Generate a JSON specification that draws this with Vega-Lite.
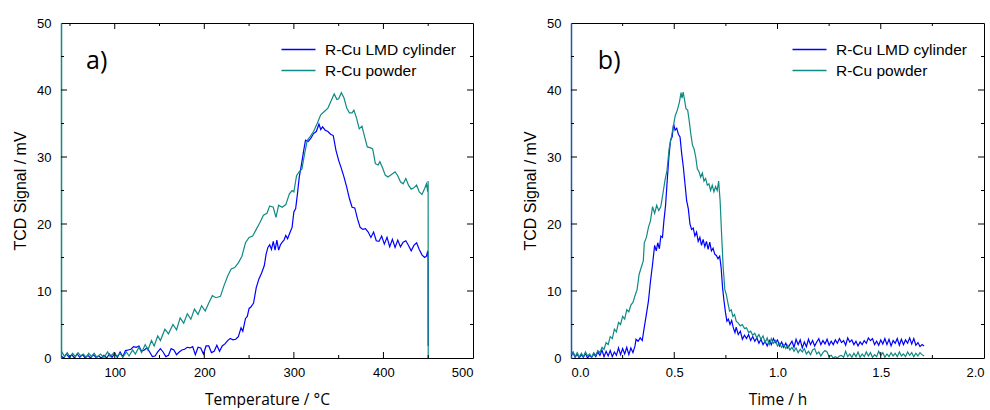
{
"$schema": "https://vega.github.io/schema/vega-lite/v6.json",
"padding": {"left": 12, "top": 16, "right": 0, "bottom": 0},
"spacing": 48,
"config": {
  "view": {"stroke": "black", "strokeWidth": 1},
  "axis": {"labelFont": "Liberation Sans", "labelFontSize": 13, "labelColor": "black", "titleFont": "Liberation Sans", "titleFontSize": 16, "titleFontWeight": "normal", "titleColor": "black", "grid": false, "domainColor": "black"},
  "legend": {"labelFont": "Liberation Sans", "labelFontSize": 15.5, "labelColor": "black", "symbolType": "M-2,0H2", "symbolSize": 289, "symbolStrokeWidth": 1.5, "orient": "top-right", "offset": 17, "title": null, "rowPadding": 3, "labelOffset": 17}
},
"resolve": {"scale": {"color": "independent"}, "legend": {"color": "independent"}},
"datasets": {
"txa": [{"v":50,"m":0},{"v":100,"m":1},{"v":150,"m":0},{"v":200,"m":1},{"v":250,"m":0},{"v":300,"m":1},{"v":350,"m":0},{"v":400,"m":1},{"v":450,"m":0}],
"txb": [{"v":0.25,"m":0},{"v":0.5,"m":1},{"v":0.75,"m":0},{"v":1,"m":1},{"v":1.25,"m":0},{"v":1.5,"m":1},{"v":1.75,"m":0}],
"ty": [{"v":5,"m":0},{"v":10,"m":1},{"v":15,"m":0},{"v":20,"m":1},{"v":25,"m":0},{"v":30,"m":1},{"v":35,"m":0},{"v":40,"m":1},{"v":45,"m":0}],
"a": [
{"s":"c","x":40,"y":0.3},{"s":"c","x":43,"y":0},{"s":"c","x":46,"y":0.6},{"s":"c","x":49,"y":0.1},{"s":"c","x":52,"y":0.5},{"s":"c","x":55,"y":0},{"s":"c","x":58,"y":0.6},{"s":"c","x":61,"y":0.1},{"s":"c","x":64,"y":0.5},{"s":"c","x":67,"y":0},{"s":"c","x":70,"y":0.4},{"s":"c","x":73,"y":0},{"s":"c","x":76,"y":0.5},{"s":"c","x":79,"y":0.1},{"s":"c","x":82,"y":0.3},{"s":"c","x":85,"y":0},{"s":"c","x":88,"y":0.4},{"s":"c","x":91,"y":0},{"s":"c","x":94,"y":0.6},{"s":"c","x":97,"y":0.1},{"s":"c","x":100,"y":0.7},{"s":"c","x":103,"y":0.1},{"s":"c","x":106,"y":0.9},{"s":"c","x":109,"y":0.2},{"s":"c","x":112,"y":1.1},{"s":"c","x":115,"y":1.2},{"s":"c","x":118,"y":1.3},{"s":"c","x":121,"y":1.7},{"s":"c","x":124,"y":1.6},{"s":"c","x":127,"y":1.8},{"s":"c","x":130,"y":1.0},{"s":"c","x":133,"y":1.2},{"s":"c","x":136,"y":1.5},{"s":"c","x":139,"y":0.9},{"s":"c","x":142,"y":0.2},{"s":"c","x":145,"y":0.3},{"s":"c","x":148,"y":0.9},{"s":"c","x":151,"y":1.4},{"s":"c","x":154,"y":0.9},{"s":"c","x":157,"y":0.2},{"s":"c","x":160,"y":0.4},{"s":"c","x":163,"y":1.4},{"s":"c","x":166,"y":1.2},{"s":"c","x":169,"y":0.5},{"s":"c","x":172,"y":0.9},{"s":"c","x":175,"y":1.2},{"s":"c","x":178,"y":1.3},{"s":"c","x":181,"y":1.6},{"s":"c","x":184,"y":1.5},{"s":"c","x":187,"y":1.7},{"s":"c","x":190,"y":0.5},{"s":"c","x":193,"y":1.6},{"s":"c","x":196,"y":1.5},{"s":"c","x":199,"y":0.6},{"s":"c","x":202,"y":1.8},{"s":"c","x":205,"y":1.8},{"s":"c","x":208,"y":0.8},{"s":"c","x":211,"y":1.0},{"s":"c","x":214,"y":1.9},{"s":"c","x":217,"y":1.0},{"s":"c","x":220,"y":1.8},{"s":"c","x":223,"y":2.1},{"s":"c","x":226,"y":2.6},{"s":"c","x":229,"y":2.9},{"s":"c","x":232,"y":2.7},{"s":"c","x":235,"y":2.8},{"s":"c","x":238,"y":3.2},{"s":"c","x":241,"y":4.5},{"s":"c","x":243,"y":4.0},{"s":"c","x":246,"y":5.9},{"s":"c","x":248,"y":6.2},{"s":"c","x":250,"y":7.4},{"s":"c","x":252,"y":7.6},{"s":"c","x":255,"y":8.2},{"s":"c","x":258,"y":10.5},{"s":"c","x":261,"y":11.8},{"s":"c","x":264,"y":12.7},{"s":"c","x":267,"y":13.8},{"s":"c","x":269,"y":15.5},{"s":"c","x":271,"y":16.5},{"s":"c","x":273,"y":16.9},{"s":"c","x":275,"y":16.2},{"s":"c","x":277,"y":17.4},{"s":"c","x":279,"y":16.1},{"s":"c","x":281,"y":17.6},{"s":"c","x":283,"y":16.1},{"s":"c","x":285,"y":16.9},{"s":"c","x":287,"y":17.3},{"s":"c","x":289,"y":17.6},{"s":"c","x":291,"y":18.3},{"s":"c","x":293,"y":17.8},{"s":"c","x":295,"y":18.5},{"s":"c","x":298,"y":19.5},{"s":"c","x":300,"y":21.8},{"s":"c","x":302,"y":22.3},{"s":"c","x":304,"y":24.5},{"s":"c","x":306,"y":27.0},{"s":"c","x":308,"y":28.5},{"s":"c","x":311,"y":31.0},{"s":"c","x":313,"y":32.5},{"s":"c","x":316,"y":32.3},{"s":"c","x":319,"y":32.8},{"s":"c","x":322,"y":33.5},{"s":"c","x":325,"y":33.8},{"s":"c","x":328,"y":34.9},{"s":"c","x":330,"y":34.1},{"s":"c","x":332,"y":34.5},{"s":"c","x":335,"y":34.0},{"s":"c","x":338,"y":33.8},{"s":"c","x":341,"y":33.4},{"s":"c","x":344,"y":33.2},{"s":"c","x":347,"y":31.0},{"s":"c","x":350,"y":29.5},{"s":"c","x":353,"y":28.3},{"s":"c","x":356,"y":27.0},{"s":"c","x":359,"y":25.5},{"s":"c","x":362,"y":23.8},{"s":"c","x":365,"y":22.5},{"s":"c","x":368,"y":22.4},{"s":"c","x":371,"y":20.8},{"s":"c","x":374,"y":19.5},{"s":"c","x":377,"y":19.2},{"s":"c","x":380,"y":19.3},{"s":"c","x":383,"y":18.8},{"s":"c","x":386,"y":18.0},{"s":"c","x":389,"y":18.8},{"s":"c","x":392,"y":17.5},{"s":"c","x":395,"y":17.4},{"s":"c","x":398,"y":18.2},{"s":"c","x":401,"y":17.0},{"s":"c","x":404,"y":18.0},{"s":"c","x":407,"y":16.6},{"s":"c","x":410,"y":17.7},{"s":"c","x":413,"y":16.5},{"s":"c","x":416,"y":17.6},{"s":"c","x":419,"y":16.6},{"s":"c","x":422,"y":17.3},{"s":"c","x":425,"y":17.5},{"s":"c","x":428,"y":16.8},{"s":"c","x":431,"y":16.0},{"s":"c","x":434,"y":16.8},{"s":"c","x":437,"y":17.2},{"s":"c","x":440,"y":16.2},{"s":"c","x":443,"y":15.4},{"s":"c","x":446,"y":15.0},{"s":"c","x":448,"y":15.2},{"s":"c","x":449.5,"y":16.0},{"s":"c","x":449.9,"y":14.5},{"s":"c","x":450,"y":1.8},
{"s":"p","x":40,"y":0.2},{"s":"p","x":41,"y":0.9},{"s":"p","x":44,"y":0.2},{"s":"p","x":47,"y":0.8},{"s":"p","x":50,"y":0.1},{"s":"p","x":53,"y":0.7},{"s":"p","x":56,"y":0.2},{"s":"p","x":59,"y":0.8},{"s":"p","x":62,"y":0.3},{"s":"p","x":65,"y":0.6},{"s":"p","x":68,"y":0.1},{"s":"p","x":71,"y":0.7},{"s":"p","x":74,"y":0.2},{"s":"p","x":77,"y":0.7},{"s":"p","x":80,"y":0.1},{"s":"p","x":84,"y":0.6},{"s":"p","x":88,"y":0.1},{"s":"p","x":92,"y":0.9},{"s":"p","x":95,"y":0.2},{"s":"p","x":99,"y":0.8},{"s":"p","x":102,"y":0.2},{"s":"p","x":106,"y":0.7},{"s":"p","x":109,"y":0.1},{"s":"p","x":113,"y":0.9},{"s":"p","x":116,"y":0.3},{"s":"p","x":120,"y":1.2},{"s":"p","x":123,"y":0.6},{"s":"p","x":127,"y":1.6},{"s":"p","x":130,"y":0.8},{"s":"p","x":134,"y":2.0},{"s":"p","x":137,"y":1.2},{"s":"p","x":141,"y":2.6},{"s":"p","x":144,"y":1.8},{"s":"p","x":148,"y":3.3},{"s":"p","x":151,"y":2.6},{"s":"p","x":156,"y":4.3},{"s":"p","x":160,"y":3.6},{"s":"p","x":165,"y":5.0},{"s":"p","x":169,"y":4.2},{"s":"p","x":173,"y":6.0},{"s":"p","x":177,"y":5.2},{"s":"p","x":181,"y":6.6},{"s":"p","x":185,"y":5.8},{"s":"p","x":189,"y":7.3},{"s":"p","x":193,"y":6.5},{"s":"p","x":197,"y":7.8},{"s":"p","x":201,"y":7.0},{"s":"p","x":205,"y":8.2},{"s":"p","x":209,"y":9.3},{"s":"p","x":213,"y":9.0},{"s":"p","x":218,"y":9.2},{"s":"p","x":222,"y":10.8},{"s":"p","x":226,"y":12.2},{"s":"p","x":230,"y":13.3},{"s":"p","x":234,"y":13.5},{"s":"p","x":238,"y":14.2},{"s":"p","x":242,"y":15.2},{"s":"p","x":246,"y":17.2},{"s":"p","x":250,"y":18.0},{"s":"p","x":254,"y":18.2},{"s":"p","x":258,"y":19.2},{"s":"p","x":262,"y":20.2},{"s":"p","x":266,"y":21.3},{"s":"p","x":270,"y":21.6},{"s":"p","x":273,"y":22.7},{"s":"p","x":277,"y":22.5},{"s":"p","x":280,"y":21.0},{"s":"p","x":283,"y":22.8},{"s":"p","x":287,"y":22.5},{"s":"p","x":291,"y":22.9},{"s":"p","x":295,"y":24.5},{"s":"p","x":298,"y":25.0},{"s":"p","x":300,"y":24.8},{"s":"p","x":303,"y":27.2},{"s":"p","x":306,"y":27.8},{"s":"p","x":309,"y":28.2},{"s":"p","x":312,"y":30.5},{"s":"p","x":315,"y":32.5},{"s":"p","x":318,"y":33.0},{"s":"p","x":322,"y":33.8},{"s":"p","x":326,"y":35.0},{"s":"p","x":330,"y":36.3},{"s":"p","x":334,"y":36.8},{"s":"p","x":338,"y":37.3},{"s":"p","x":342,"y":38.5},{"s":"p","x":345,"y":39.4},{"s":"p","x":348,"y":38.6},{"s":"p","x":350,"y":38.7},{"s":"p","x":353,"y":39.6},{"s":"p","x":356,"y":38.8},{"s":"p","x":359,"y":37.3},{"s":"p","x":362,"y":36.6},{"s":"p","x":365,"y":36.6},{"s":"p","x":367,"y":37.0},{"s":"p","x":370,"y":35.8},{"s":"p","x":373,"y":34.2},{"s":"p","x":376,"y":34.6},{"s":"p","x":379,"y":33.0},{"s":"p","x":382,"y":31.5},{"s":"p","x":385,"y":31.4},{"s":"p","x":388,"y":31.2},{"s":"p","x":391,"y":29.0},{"s":"p","x":394,"y":28.8},{"s":"p","x":396,"y":29.3},{"s":"p","x":399,"y":28.4},{"s":"p","x":402,"y":27.3},{"s":"p","x":405,"y":27.0},{"s":"p","x":409,"y":27.4},{"s":"p","x":413,"y":27.8},{"s":"p","x":416,"y":27.2},{"s":"p","x":419,"y":26.3},{"s":"p","x":422,"y":26.0},{"s":"p","x":425,"y":26.8},{"s":"p","x":428,"y":25.8},{"s":"p","x":431,"y":25.2},{"s":"p","x":434,"y":25.4},{"s":"p","x":437,"y":25.8},{"s":"p","x":440,"y":24.8},{"s":"p","x":443,"y":24.4},{"s":"p","x":446,"y":25.3},{"s":"p","x":448,"y":26.0},{"s":"p","x":449.5,"y":24.8},{"s":"p","x":449.9,"y":26.4},{"s":"p","x":450,"y":0}
],
"b": [
{"s":"c","x":0,"y":0.3},{"s":"c","x":0.01,"y":0.8},{"s":"c","x":0.02,"y":0.1},{"s":"c","x":0.03,"y":0.6},{"s":"c","x":0.04,"y":0},{"s":"c","x":0.05,"y":0.5},{"s":"c","x":0.06,"y":0.1},{"s":"c","x":0.07,"y":0.7},{"s":"c","x":0.08,"y":0},{"s":"c","x":0.09,"y":0.4},{"s":"c","x":0.10,"y":0.1},{"s":"c","x":0.11,"y":0.6},{"s":"c","x":0.12,"y":0.2},{"s":"c","x":0.13,"y":0.9},{"s":"c","x":0.14,"y":0.4},{"s":"c","x":0.15,"y":1.2},{"s":"c","x":0.16,"y":0.2},{"s":"c","x":0.17,"y":1.0},{"s":"c","x":0.18,"y":0.3},{"s":"c","x":0.19,"y":1.1},{"s":"c","x":0.20,"y":0.2},{"s":"c","x":0.21,"y":0.9},{"s":"c","x":0.22,"y":0.4},{"s":"c","x":0.23,"y":1.5},{"s":"c","x":0.24,"y":0.5},{"s":"c","x":0.25,"y":1.4},{"s":"c","x":0.26,"y":0.6},{"s":"c","x":0.27,"y":1.6},{"s":"c","x":0.28,"y":0.5},{"s":"c","x":0.29,"y":1.5},{"s":"c","x":0.30,"y":0.8},{"s":"c","x":0.31,"y":1.8},{"s":"c","x":0.315,"y":2.8},{"s":"c","x":0.325,"y":2.5},{"s":"c","x":0.335,"y":3.0},{"s":"c","x":0.345,"y":2.6},{"s":"c","x":0.355,"y":4.6},{"s":"c","x":0.365,"y":6.5},{"s":"c","x":0.375,"y":8.5},{"s":"c","x":0.385,"y":11.5},{"s":"c","x":0.395,"y":14.0},{"s":"c","x":0.405,"y":16.8},{"s":"c","x":0.413,"y":16.0},{"s":"c","x":0.42,"y":17.2},{"s":"c","x":0.428,"y":16.3},{"s":"c","x":0.435,"y":18.2},{"s":"c","x":0.443,"y":18.0},{"s":"c","x":0.45,"y":20.5},{"s":"c","x":0.458,"y":22.8},{"s":"c","x":0.466,"y":26.5},{"s":"c","x":0.474,"y":30.0},{"s":"c","x":0.482,"y":32.5},{"s":"c","x":0.49,"y":33.0},{"s":"c","x":0.497,"y":34.9},{"s":"c","x":0.504,"y":34.0},{"s":"c","x":0.512,"y":34.3},{"s":"c","x":0.52,"y":33.4},{"s":"c","x":0.528,"y":33.0},{"s":"c","x":0.536,"y":30.5},{"s":"c","x":0.544,"y":28.5},{"s":"c","x":0.552,"y":26.0},{"s":"c","x":0.56,"y":23.5},{"s":"c","x":0.568,"y":22.3},{"s":"c","x":0.576,"y":20.0},{"s":"c","x":0.584,"y":19.2},{"s":"c","x":0.592,"y":19.4},{"s":"c","x":0.60,"y":18.2},{"s":"c","x":0.608,"y":18.8},{"s":"c","x":0.616,"y":17.4},{"s":"c","x":0.624,"y":18.0},{"s":"c","x":0.632,"y":16.8},{"s":"c","x":0.64,"y":17.7},{"s":"c","x":0.648,"y":16.6},{"s":"c","x":0.656,"y":17.4},{"s":"c","x":0.664,"y":16.2},{"s":"c","x":0.672,"y":17.3},{"s":"c","x":0.68,"y":16.0},{"s":"c","x":0.688,"y":16.4},{"s":"c","x":0.696,"y":15.5},{"s":"c","x":0.704,"y":15.3},{"s":"c","x":0.712,"y":14.8},{"s":"c","x":0.72,"y":15.2},{"s":"c","x":0.727,"y":13.5},{"s":"c","x":0.734,"y":10.5},{"s":"c","x":0.741,"y":8.5},{"s":"c","x":0.748,"y":6.8},{"s":"c","x":0.755,"y":5.5},{"s":"c","x":0.762,"y":5.8},{"s":"c","x":0.77,"y":5.0},{"s":"c","x":0.778,"y":5.6},{"s":"c","x":0.786,"y":4.5},{"s":"c","x":0.794,"y":3.8},{"s":"c","x":0.80,"y":4.6},{"s":"c","x":0.81,"y":3.5},{"s":"c","x":0.82,"y":4.0},{"s":"c","x":0.83,"y":2.8},{"s":"c","x":0.84,"y":3.4},{"s":"c","x":0.85,"y":2.9},{"s":"c","x":0.86,"y":3.5},{"s":"c","x":0.87,"y":2.6},{"s":"c","x":0.88,"y":3.2},{"s":"c","x":0.89,"y":2.5},{"s":"c","x":0.90,"y":3.0},{"s":"c","x":0.91,"y":2.2},{"s":"c","x":0.92,"y":2.8},{"s":"c","x":0.93,"y":2.0},{"s":"c","x":0.94,"y":2.5},{"s":"c","x":0.95,"y":1.8},{"s":"c","x":0.96,"y":2.6},{"s":"c","x":0.97,"y":2.0},{"s":"c","x":0.98,"y":2.9},{"s":"c","x":0.99,"y":2.3},{"s":"c","x":1.00,"y":2.7},{"s":"c","x":1.01,"y":1.8},{"s":"c","x":1.02,"y":2.4},{"s":"c","x":1.03,"y":1.6},{"s":"c","x":1.04,"y":2.2},{"s":"c","x":1.05,"y":1.5},{"s":"c","x":1.06,"y":2.0},{"s":"c","x":1.07,"y":2.5},{"s":"c","x":1.08,"y":1.6},{"s":"c","x":1.09,"y":2.8},{"s":"c","x":1.10,"y":2.0},{"s":"c","x":1.11,"y":2.7},{"s":"c","x":1.12,"y":1.5},{"s":"c","x":1.13,"y":2.4},{"s":"c","x":1.14,"y":1.7},{"s":"c","x":1.15,"y":2.8},{"s":"c","x":1.16,"y":2.0},{"s":"c","x":1.17,"y":2.6},{"s":"c","x":1.18,"y":1.8},{"s":"c","x":1.19,"y":2.4},{"s":"c","x":1.20,"y":2.9},{"s":"c","x":1.21,"y":2.0},{"s":"c","x":1.22,"y":2.6},{"s":"c","x":1.23,"y":2.1},{"s":"c","x":1.24,"y":2.8},{"s":"c","x":1.25,"y":1.9},{"s":"c","x":1.26,"y":2.5},{"s":"c","x":1.27,"y":2.0},{"s":"c","x":1.28,"y":2.7},{"s":"c","x":1.29,"y":2.2},{"s":"c","x":1.30,"y":2.9},{"s":"c","x":1.31,"y":2.3},{"s":"c","x":1.32,"y":2.6},{"s":"c","x":1.33,"y":1.9},{"s":"c","x":1.34,"y":3.0},{"s":"c","x":1.35,"y":2.4},{"s":"c","x":1.36,"y":2.7},{"s":"c","x":1.37,"y":2.0},{"s":"c","x":1.38,"y":2.5},{"s":"c","x":1.39,"y":1.8},{"s":"c","x":1.40,"y":2.4},{"s":"c","x":1.41,"y":2.0},{"s":"c","x":1.42,"y":2.6},{"s":"c","x":1.43,"y":2.2},{"s":"c","x":1.44,"y":3.0},{"s":"c","x":1.45,"y":2.6},{"s":"c","x":1.46,"y":2.9},{"s":"c","x":1.47,"y":2.0},{"s":"c","x":1.48,"y":2.5},{"s":"c","x":1.49,"y":1.9},{"s":"c","x":1.50,"y":2.7},{"s":"c","x":1.51,"y":2.1},{"s":"c","x":1.52,"y":2.9},{"s":"c","x":1.53,"y":2.0},{"s":"c","x":1.54,"y":2.8},{"s":"c","x":1.55,"y":1.8},{"s":"c","x":1.56,"y":2.6},{"s":"c","x":1.57,"y":2.2},{"s":"c","x":1.58,"y":2.9},{"s":"c","x":1.59,"y":1.9},{"s":"c","x":1.60,"y":2.8},{"s":"c","x":1.61,"y":2.0},{"s":"c","x":1.62,"y":2.7},{"s":"c","x":1.63,"y":2.2},{"s":"c","x":1.64,"y":3.0},{"s":"c","x":1.65,"y":2.1},{"s":"c","x":1.66,"y":2.9},{"s":"c","x":1.67,"y":1.9},{"s":"c","x":1.68,"y":2.3},{"s":"c","x":1.69,"y":1.7},{"s":"c","x":1.70,"y":2.0},{"s":"c","x":1.71,"y":1.8},
{"s":"p","x":0,"y":0.5},{"s":"p","x":0.01,"y":0.9},{"s":"p","x":0.02,"y":0.2},{"s":"p","x":0.03,"y":0.8},{"s":"p","x":0.04,"y":0.1},{"s":"p","x":0.05,"y":0.7},{"s":"p","x":0.06,"y":0.2},{"s":"p","x":0.07,"y":0.9},{"s":"p","x":0.08,"y":0.3},{"s":"p","x":0.09,"y":0.6},{"s":"p","x":0.10,"y":0.1},{"s":"p","x":0.11,"y":0.8},{"s":"p","x":0.12,"y":0.4},{"s":"p","x":0.13,"y":1.1},{"s":"p","x":0.14,"y":0.8},{"s":"p","x":0.15,"y":1.6},{"s":"p","x":0.16,"y":1.3},{"s":"p","x":0.17,"y":2.3},{"s":"p","x":0.18,"y":2.0},{"s":"p","x":0.19,"y":3.2},{"s":"p","x":0.20,"y":2.9},{"s":"p","x":0.21,"y":4.3},{"s":"p","x":0.22,"y":3.9},{"s":"p","x":0.23,"y":5.3},{"s":"p","x":0.24,"y":5.0},{"s":"p","x":0.25,"y":6.2},{"s":"p","x":0.26,"y":5.8},{"s":"p","x":0.27,"y":7.2},{"s":"p","x":0.28,"y":6.9},{"s":"p","x":0.29,"y":7.9},{"s":"p","x":0.30,"y":8.3},{"s":"p","x":0.31,"y":9.3},{"s":"p","x":0.32,"y":10.2},{"s":"p","x":0.33,"y":12.5},{"s":"p","x":0.34,"y":13.5},{"s":"p","x":0.35,"y":14.5},{"s":"p","x":0.355,"y":17.2},{"s":"p","x":0.365,"y":18.0},{"s":"p","x":0.375,"y":19.5},{"s":"p","x":0.385,"y":20.5},{"s":"p","x":0.395,"y":22.6},{"s":"p","x":0.405,"y":21.6},{"s":"p","x":0.415,"y":22.8},{"s":"p","x":0.425,"y":22.0},{"s":"p","x":0.435,"y":22.6},{"s":"p","x":0.445,"y":24.5},{"s":"p","x":0.455,"y":26.5},{"s":"p","x":0.465,"y":28.0},{"s":"p","x":0.475,"y":31.2},{"s":"p","x":0.485,"y":32.8},{"s":"p","x":0.495,"y":34.5},{"s":"p","x":0.505,"y":36.2},{"s":"p","x":0.515,"y":37.0},{"s":"p","x":0.525,"y":38.2},{"s":"p","x":0.533,"y":39.6},{"s":"p","x":0.538,"y":38.8},{"s":"p","x":0.543,"y":39.7},{"s":"p","x":0.55,"y":38.5},{"s":"p","x":0.557,"y":37.2},{"s":"p","x":0.565,"y":37.0},{"s":"p","x":0.572,"y":35.5},{"s":"p","x":0.58,"y":33.5},{"s":"p","x":0.588,"y":31.8},{"s":"p","x":0.596,"y":31.2},{"s":"p","x":0.604,"y":30.0},{"s":"p","x":0.612,"y":28.2},{"s":"p","x":0.62,"y":27.8},{"s":"p","x":0.628,"y":27.0},{"s":"p","x":0.636,"y":27.6},{"s":"p","x":0.644,"y":26.4},{"s":"p","x":0.652,"y":26.8},{"s":"p","x":0.66,"y":25.8},{"s":"p","x":0.668,"y":26.0},{"s":"p","x":0.676,"y":25.0},{"s":"p","x":0.684,"y":25.8},{"s":"p","x":0.692,"y":24.8},{"s":"p","x":0.70,"y":25.6},{"s":"p","x":0.708,"y":25.0},{"s":"p","x":0.715,"y":26.4},{"s":"p","x":0.722,"y":23.5},{"s":"p","x":0.73,"y":18.0},{"s":"p","x":0.737,"y":13.5},{"s":"p","x":0.745,"y":10.2},{"s":"p","x":0.752,"y":9.5},{"s":"p","x":0.76,"y":8.2},{"s":"p","x":0.768,"y":7.0},{"s":"p","x":0.776,"y":7.2},{"s":"p","x":0.784,"y":6.2},{"s":"p","x":0.792,"y":6.5},{"s":"p","x":0.80,"y":5.5},{"s":"p","x":0.81,"y":5.2},{"s":"p","x":0.82,"y":4.8},{"s":"p","x":0.83,"y":5.0},{"s":"p","x":0.84,"y":4.4},{"s":"p","x":0.85,"y":4.5},{"s":"p","x":0.86,"y":3.8},{"s":"p","x":0.87,"y":4.0},{"s":"p","x":0.88,"y":3.4},{"s":"p","x":0.89,"y":3.7},{"s":"p","x":0.90,"y":3.0},{"s":"p","x":0.91,"y":3.5},{"s":"p","x":0.92,"y":2.8},{"s":"p","x":0.93,"y":3.3},{"s":"p","x":0.94,"y":2.3},{"s":"p","x":0.95,"y":3.0},{"s":"p","x":0.96,"y":2.0},{"s":"p","x":0.97,"y":2.9},{"s":"p","x":0.98,"y":2.2},{"s":"p","x":0.99,"y":2.6},{"s":"p","x":1.00,"y":1.8},{"s":"p","x":1.01,"y":2.2},{"s":"p","x":1.02,"y":1.6},{"s":"p","x":1.03,"y":2.0},{"s":"p","x":1.04,"y":1.4},{"s":"p","x":1.05,"y":1.9},{"s":"p","x":1.06,"y":1.2},{"s":"p","x":1.07,"y":1.6},{"s":"p","x":1.08,"y":1.0},{"s":"p","x":1.09,"y":1.5},{"s":"p","x":1.10,"y":0.8},{"s":"p","x":1.11,"y":1.3},{"s":"p","x":1.12,"y":0.9},{"s":"p","x":1.13,"y":1.4},{"s":"p","x":1.14,"y":0.6},{"s":"p","x":1.15,"y":1.0},{"s":"p","x":1.16,"y":0.5},{"s":"p","x":1.17,"y":1.2},{"s":"p","x":1.18,"y":1.4},{"s":"p","x":1.19,"y":0.6},{"s":"p","x":1.20,"y":0.9},{"s":"p","x":1.21,"y":0.3},{"s":"p","x":1.22,"y":0.8},{"s":"p","x":1.23,"y":1.1},{"s":"p","x":1.24,"y":0.9},{"s":"p","x":1.25,"y":0.2},{"s":"p","x":1.26,"y":0.4},{"s":"p","x":1.27,"y":0},{"s":"p","x":1.28,"y":0.2},{"s":"p","x":1.29,"y":0},{"s":"p","x":1.30,"y":0.3},{"s":"p","x":1.31,"y":0.4},{"s":"p","x":1.32,"y":0.1},{"s":"p","x":1.33,"y":1.0},{"s":"p","x":1.34,"y":0.2},{"s":"p","x":1.35,"y":0.6},{"s":"p","x":1.36,"y":0.1},{"s":"p","x":1.37,"y":0.7},{"s":"p","x":1.38,"y":0.2},{"s":"p","x":1.39,"y":0.9},{"s":"p","x":1.40,"y":0.1},{"s":"p","x":1.41,"y":0.6},{"s":"p","x":1.42,"y":0.2},{"s":"p","x":1.43,"y":0.9},{"s":"p","x":1.44,"y":0.3},{"s":"p","x":1.45,"y":0.8},{"s":"p","x":1.46,"y":0.1},{"s":"p","x":1.47,"y":0.5},{"s":"p","x":1.48,"y":0.2},{"s":"p","x":1.49,"y":1.0},{"s":"p","x":1.50,"y":0.4},{"s":"p","x":1.51,"y":0.8},{"s":"p","x":1.52,"y":0.1},{"s":"p","x":1.53,"y":0.6},{"s":"p","x":1.54,"y":0.2},{"s":"p","x":1.55,"y":0.8},{"s":"p","x":1.56,"y":0.3},{"s":"p","x":1.57,"y":0.7},{"s":"p","x":1.58,"y":0.2},{"s":"p","x":1.59,"y":0.9},{"s":"p","x":1.60,"y":0.3},{"s":"p","x":1.61,"y":0.6},{"s":"p","x":1.62,"y":0.2},{"s":"p","x":1.63,"y":0.9},{"s":"p","x":1.64,"y":0.4},{"s":"p","x":1.65,"y":0.8},{"s":"p","x":1.66,"y":0.2},{"s":"p","x":1.67,"y":0.7},{"s":"p","x":1.68,"y":0.3},{"s":"p","x":1.69,"y":0.8},{"s":"p","x":1.70,"y":0.5},{"s":"p","x":1.71,"y":0.3}
]
},
"hconcat": [
{
  "width": 412, "height": 335,
  "layer": [
    {
      "data": {"name": "a"},
      "mark": {"type": "line", "strokeWidth": 1.2, "clip": true},
      "encoding": {
        "x": {"field": "x", "type": "quantitative", "scale": {"domain": [40, 500], "nice": false, "zero": false},
              "axis": {"orient": "bottom", "values": [100, 200, 300, 400, 500], "ticks": false, "domain": false, "title": "Temperature / °C", "titleFont": "Open Sans", "titleFontSize": 15.5, "labelPadding": 8, "titlePadding": 13}},
        "y": {"field": "y", "type": "quantitative", "scale": {"domain": [0, 50], "nice": false},
              "axis": {"orient": "left", "values": [0, 10, 20, 30, 40, 50], "ticks": false, "domain": true, "domainColor": "#0f8a84", "domainWidth": 1.5, "title": "TCD Signal / mV", "labelPadding": 10, "titlePadding": 8}},
        "color": {"field": "s", "type": "nominal", "scale": {"domain": ["c", "p"], "range": ["#0000ff", "#0f8a84"]},
                  "legend": {"labelExpr": "datum.label === 'c' ? 'R-Cu LMD cylinder' : 'R-Cu powder'"}}
      }
    },
    {
      "data": {"name": "txa"},
      "mark": {"type": "tick", "orient": "vertical", "clip": true, "color": "black", "opacity": 1, "thickness": 1},
      "encoding": {
        "x": {"field": "v", "type": "quantitative"},
        "y": {"datum": 0, "type": "quantitative"},
        "size": {"condition": {"test": "datum.m === 1", "value": 12}, "value": 6}
      }
    },
    {
      "data": {"name": "txa"},
      "mark": {"type": "tick", "orient": "vertical", "clip": true, "color": "black", "opacity": 1, "thickness": 1},
      "encoding": {
        "x": {"field": "v", "type": "quantitative"},
        "y": {"datum": 50, "type": "quantitative"},
        "size": {"condition": {"test": "datum.m === 1", "value": 12}, "value": 6}
      }
    },
    {
      "data": {"name": "ty"},
      "mark": {"type": "tick", "orient": "horizontal", "clip": true, "color": "black", "opacity": 1, "thickness": 1},
      "encoding": {
        "y": {"field": "v", "type": "quantitative"},
        "x": {"datum": 40, "type": "quantitative"},
        "size": {"condition": {"test": "datum.m === 1", "value": 12}, "value": 6}
      }
    },
    {
      "data": {"name": "ty"},
      "mark": {"type": "tick", "orient": "horizontal", "clip": true, "color": "black", "opacity": 1, "thickness": 1},
      "encoding": {
        "y": {"field": "v", "type": "quantitative"},
        "x": {"datum": 500, "type": "quantitative"},
        "size": {"condition": {"test": "datum.m === 1", "value": 12}, "value": 6}
      }
    },
    {
      "data": {"values": [{"label": "a)"}]},
      "mark": {"type": "text", "align": "left", "baseline": "middle", "font": "Open Sans", "fontSize": 25, "fontWeight": 400, "color": "black"},
      "encoding": {"text": {"field": "label"}, "x": {"datum": 68, "type": "quantitative"}, "y": {"datum": 44.3, "type": "quantitative"}}
    }
  ]
},
{
  "width": 413, "height": 335,
  "layer": [
    {
      "data": {"name": "b"},
      "mark": {"type": "line", "strokeWidth": 1.2, "clip": true},
      "encoding": {
        "x": {"field": "x", "type": "quantitative", "scale": {"domain": [0, 2], "nice": false, "zero": false},
              "axis": {"orient": "bottom", "values": [0, 0.5, 1, 1.5, 2], "format": ".1f", "ticks": false, "domain": false, "title": "Time / h", "titleFont": "Open Sans", "titleFontSize": 15.5, "labelPadding": 8, "titlePadding": 13}},
        "y": {"field": "y", "type": "quantitative", "scale": {"domain": [0, 50], "nice": false},
              "axis": {"orient": "left", "values": [0, 10, 20, 30, 40, 50], "ticks": false, "domain": true, "domainColor": "#1a5aa8", "domainWidth": 1.5, "title": "TCD Signal / mV", "labelPadding": 10, "titlePadding": 8}},
        "color": {"field": "s", "type": "nominal", "scale": {"domain": ["c", "p"], "range": ["#0000ff", "#0f8a84"]},
                  "legend": {"labelExpr": "datum.label === 'c' ? 'R-Cu LMD cylinder' : 'R-Cu powder'"}}
      }
    },
    {
      "data": {"name": "txb"},
      "mark": {"type": "tick", "orient": "vertical", "clip": true, "color": "black", "opacity": 1, "thickness": 1},
      "encoding": {
        "x": {"field": "v", "type": "quantitative"},
        "y": {"datum": 0, "type": "quantitative"},
        "size": {"condition": {"test": "datum.m === 1", "value": 12}, "value": 6}
      }
    },
    {
      "data": {"name": "txb"},
      "mark": {"type": "tick", "orient": "vertical", "clip": true, "color": "black", "opacity": 1, "thickness": 1},
      "encoding": {
        "x": {"field": "v", "type": "quantitative"},
        "y": {"datum": 50, "type": "quantitative"},
        "size": {"condition": {"test": "datum.m === 1", "value": 12}, "value": 6}
      }
    },
    {
      "data": {"name": "ty"},
      "mark": {"type": "tick", "orient": "horizontal", "clip": true, "color": "black", "opacity": 1, "thickness": 1},
      "encoding": {
        "y": {"field": "v", "type": "quantitative"},
        "x": {"datum": 0, "type": "quantitative"},
        "size": {"condition": {"test": "datum.m === 1", "value": 12}, "value": 6}
      }
    },
    {
      "data": {"name": "ty"},
      "mark": {"type": "tick", "orient": "horizontal", "clip": true, "color": "black", "opacity": 1, "thickness": 1},
      "encoding": {
        "y": {"field": "v", "type": "quantitative"},
        "x": {"datum": 2, "type": "quantitative"},
        "size": {"condition": {"test": "datum.m === 1", "value": 12}, "value": 6}
      }
    },
    {
      "data": {"values": [{"label": "b)"}]},
      "mark": {"type": "text", "align": "left", "baseline": "middle", "font": "Open Sans", "fontSize": 25, "fontWeight": 400, "color": "black"},
      "encoding": {"text": {"field": "label"}, "x": {"datum": 0.13, "type": "quantitative"}, "y": {"datum": 44.3, "type": "quantitative"}}
    }
  ]
}
]
}
